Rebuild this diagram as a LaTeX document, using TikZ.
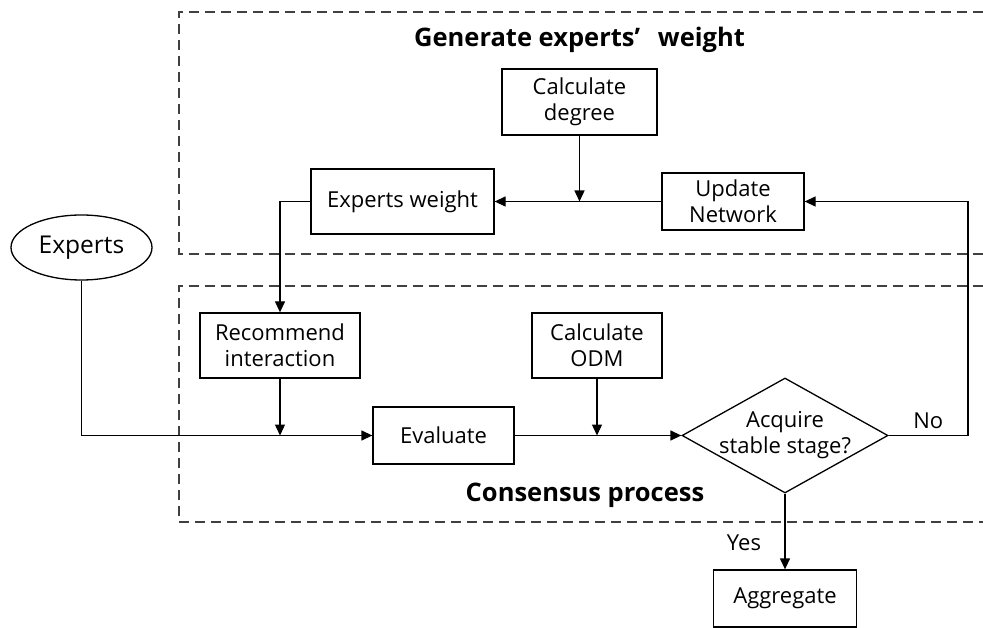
\documentclass[tikz,border=0pt]{standalone}
\usepackage{fontspec}
\setmainfont{Open Sans}
\usetikzlibrary{arrows.meta,positioning,shapes.geometric}

\begin{document}
\begin{tikzpicture}[on grid,>={Triangle[length=11pt,width=10pt]},
line width=1.3pt,
block/.style={draw,rectangle,align=center,inner sep=2pt,
    font=\fontsize{22}{26}\selectfont},
decision/.style={draw,diamond,inner sep=0pt,minimum width=206pt,
    minimum height=115pt},
lbl/.style={font=\fontsize{22}{26}\selectfont},
group/.style={draw=black!75,dash pattern=on 10pt off 6pt},
heading/.style={font=\bfseries\fontsize{25.5}{30}\selectfont}]

\useasboundingbox (0,0) rectangle (983pt,-628pt);

% dashed frames
\draw[group] (983pt,-12pt) -- (179pt,-12pt) -- (179pt,-254pt) -- (983pt,-254pt);
\draw[group] (983pt,-286pt) -- (179pt,-286pt) -- (179pt,-522pt) -- (983pt,-522pt);

\node[draw,ellipse,minimum width=141pt,minimum height=65pt,
  font=\fontsize{24.5}{28}\selectfont](experts) at (81.5pt,-247.5pt) {Experts};
\node[block,minimum width=183pt,minimum height=65pt](weight) [above right=46pt and 321pt of experts] {Experts weight};
\node[block,minimum width=142pt,minimum height=57pt](update) [right=330.5pt of weight] {Update\\Network};
\node[block,minimum width=155pt,minimum height=66pt](degree) [above right=99.5pt and 177pt of weight] {Calculate\\degree};
\node[block,minimum width=141pt,minimum height=57pt](evaluate) [below right=188pt and 362pt of experts] {Evaluate};
\node[block,minimum width=160pt,minimum height=65pt](recommend) [above left=90pt and 163.5pt of evaluate] {Recommend\\interaction};
\node[block,minimum width=130pt,minimum height=65pt](odm) [above right=90pt and 153.5pt of evaluate] {Calculate\\ODM};
\node[decision,label={[align=center,lbl]center:Acquire\\stable stage?}](stable) [right=341.5pt of evaluate] {};
\node[block,minimum width=143pt,minimum height=57pt](aggregate) [below=163pt of stable] {Aggregate};
\node[heading](gentitle) [above=62pt of degree] {Generate experts’\hspace{0.7em}weight};
\node[heading](contitle) [below right=59.5pt and 141.5pt of evaluate] {Consensus process};
\node[coordinate](turn) [right=183pt of stable] {};

\path[->]
    (update) edge (weight)
    (evaluate) edge (stable)
    (stable) edge node[lbl,pos=0.65,left=20pt] {Yes} (aggregate);
\draw[->] (degree) -- (degree |- weight);
\draw[->] (weight.west) -| (recommend.north);
\draw[->] (recommend) -- (recommend |- evaluate);
\draw[->] (odm) -- (odm |- evaluate);
\draw[->] (experts) |- (evaluate);
\draw[->] (stable.east) -- node[lbl,above=3pt] {No} (turn) |- (update.east);

\end{tikzpicture}
\end{document}
